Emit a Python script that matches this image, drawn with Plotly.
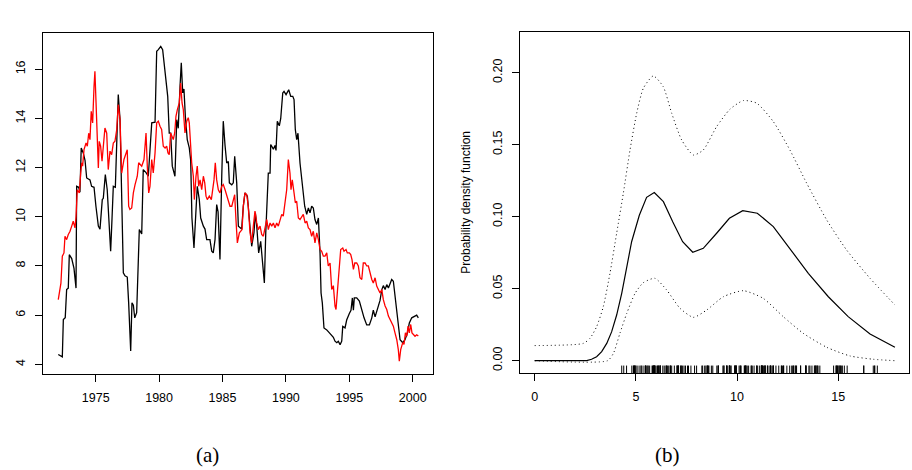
import plotly.graph_objects as go

# ---------------- Panel (a): time series ----------------
black_year = [1972.05, 1972.37, 1972.45, 1972.6, 1972.71, 1972.84, 1972.92, 1973.11, 1973.29, 1973.45,
              1973.5, 1973.66, 1973.76, 1973.86, 1974.02, 1974.16, 1974.29, 1974.55, 1974.68, 1974.87,
              1975.02, 1975.21, 1975.34, 1975.52, 1975.6, 1975.76, 1975.91, 1976.03, 1976.18, 1976.29,
              1976.39, 1976.55, 1976.66, 1976.78, 1976.92, 1977.05, 1977.18, 1977.31, 1977.49, 1977.6,
              1977.76, 1977.86, 1977.97, 1978.08, 1978.23, 1978.44, 1978.63, 1978.75, 1978.97, 1979.15,
              1979.42, 1979.68, 1979.81, 1979.94, 1980.13, 1980.28, 1980.39, 1980.54, 1980.68, 1980.8,
              1980.91, 1981.04, 1981.25, 1981.39, 1981.51, 1981.65, 1981.75, 1981.86, 1981.96, 1982.07,
              1982.22, 1982.38, 1982.49, 1982.59, 1982.75, 1982.85, 1983.01, 1983.17, 1983.28, 1983.49,
              1983.62, 1983.75, 1984.01, 1984.15, 1984.27, 1984.41, 1984.54, 1984.65, 1984.8, 1984.94,
              1985.06, 1985.2, 1985.33, 1985.46, 1985.54, 1985.73, 1985.85, 1985.96, 1986.12, 1986.25,
              1986.51, 1986.64, 1986.77, 1986.96, 1987.11, 1987.3, 1987.48, 1987.59, 1987.7, 1987.85,
              1988.01, 1988.12, 1988.22, 1988.3, 1988.41, 1988.53, 1988.61, 1988.75, 1988.8, 1989.01,
              1989.14, 1989.22, 1989.32, 1989.48, 1989.59, 1989.75, 1989.85, 1990.01, 1990.11, 1990.22,
              1990.38, 1990.54, 1990.64, 1990.74, 1990.85, 1990.95, 1991.11, 1991.25, 1991.37, 1991.48,
              1991.64, 1991.77, 1991.9, 1992.03, 1992.16, 1992.29, 1992.43, 1992.56, 1992.69, 1992.77,
              1992.87, 1993.0, 1993.22, 1993.42, 1993.61, 1993.74, 1993.87, 1994.01, 1994.13, 1994.27,
              1994.4, 1994.48, 1994.66, 1994.79, 1995.0, 1995.13, 1995.24, 1995.32, 1995.39, 1995.58,
              1995.79, 1995.98, 1996.16, 1996.37, 1996.58, 1996.77, 1996.89, 1997.03, 1997.16, 1997.29,
              1997.42, 1997.56, 1997.68, 1997.82, 1997.95, 1998.08, 1998.21, 1998.34, 1998.47, 1998.6,
              1998.74, 1998.86, 1999.0, 1999.21, 1999.39, 1999.57, 1999.73, 1999.92, 2000.1, 2000.31,
              2000.44]
black_val = [4.4, 4.3, 5.82, 5.9, 7.04, 7.1, 8.46, 8.3, 7.9, 7.1,
             11.24, 11.2, 11.0, 12.8, 12.6, 12.3, 11.58, 11.5, 11.24, 11.2,
             10.43, 9.62, 9.5, 10.7, 10.75, 11.72, 11.1, 9.89, 8.6, 9.95,
             11.24, 11.2, 13.4, 14.97, 13.96, 11.38, 7.72, 7.6, 7.55, 6.5,
             4.54, 6.5, 6.4, 5.89, 6.1, 9.48, 9.3, 11.92, 11.8, 11.65,
             13.82, 13.85, 16.73, 16.8, 16.93, 16.8, 16.26, 15.44, 14.9, 13.4,
             13.4, 12.06, 11.65, 13.95, 13.6, 15.3, 16.26, 15.04, 15.2, 14.09,
             13.14, 12.8, 12.3, 9.95, 8.73, 9.7, 11.24, 10.7, 9.95, 9.62,
             9.5, 9.07, 9.07, 8.6, 8.53, 9.07, 10.5, 10.2, 8.26, 11.65,
             13.89, 12.9, 12.19, 12.25, 11.38, 11.3, 11.38, 12.46, 11.38, 9.62,
             9.5, 10.43, 10.97, 10.84, 9.89, 8.8, 9.35, 10.16, 9.62, 8.53,
             9.0, 8.4, 8.0, 7.31, 9.35, 10.57, 11.78, 11.78, 12.94, 12.75,
             12.9, 12.7, 13.89, 13.7, 14.0, 15.04, 15.1, 14.97, 15.1, 15.17,
             14.9, 14.9, 14.77, 13.55, 13.14, 13.4, 12.19, 11.5, 10.97, 10.43,
             10.1, 10.36, 10.16, 10.43, 10.36, 9.89, 9.69, 9.95, 8.53, 6.9,
             6.5, 5.48, 5.4, 5.3, 5.2, 5.1, 4.94, 4.88, 4.94, 4.8,
             4.94, 5.54, 5.48, 5.8, 6.07, 6.2, 6.7, 6.2, 6.7, 6.7,
             6.57, 6.2, 5.89, 5.6, 5.6, 5.89, 6.2, 5.93, 6.13, 6.33,
             6.6, 7.04, 7.2, 7.04, 7.24, 7.1, 7.24, 7.45, 7.38, 6.77,
             6.1, 5.48, 5.0, 4.88, 5.0, 5.26, 5.68, 5.89, 5.95, 6.0,
             5.89]

red_year = [1972.05, 1972.18, 1972.26, 1972.37, 1972.5, 1972.58, 1972.71, 1972.84, 1972.97, 1973.11,
            1973.23, 1973.37, 1973.45, 1973.55, 1973.71, 1973.82, 1973.9, 1973.97, 1974.08, 1974.24,
            1974.34, 1974.45, 1974.55, 1974.65, 1974.76, 1974.87, 1974.94, 1975.02, 1975.13, 1975.21,
            1975.28, 1975.39, 1975.5, 1975.6, 1975.73, 1975.87, 1975.99, 1976.13, 1976.26, 1976.39,
            1976.52, 1976.66, 1976.78, 1976.92, 1977.05, 1977.23, 1977.39, 1977.49, 1977.6, 1977.7,
            1977.84, 1977.97, 1978.1, 1978.18, 1978.28, 1978.39, 1978.49, 1978.63, 1978.81, 1978.97,
            1979.07, 1979.18, 1979.28, 1979.42, 1979.54, 1979.68, 1979.81, 1979.94, 1980.07, 1980.2,
            1980.33, 1980.47, 1980.6, 1980.7, 1980.8, 1980.91, 1981.02, 1981.12, 1981.23, 1981.33,
            1981.44, 1981.59, 1981.7, 1981.81, 1981.91, 1982.04, 1982.18, 1982.3, 1982.38, 1982.49,
            1982.57, 1982.7, 1982.78, 1982.91, 1983.01, 1983.12, 1983.23, 1983.36, 1983.49, 1983.6,
            1983.7, 1983.8, 1983.96, 1984.12, 1984.23, 1984.33, 1984.43, 1984.54, 1984.67, 1984.8,
            1984.94, 1985.06, 1985.2, 1985.33, 1985.46, 1985.59, 1985.73, 1985.85, 1985.96, 1986.06,
            1986.17, 1986.33, 1986.54, 1986.64, 1986.77, 1986.91, 1987.03, 1987.17, 1987.3, 1987.43,
            1987.56, 1987.7, 1987.82, 1987.96, 1988.09, 1988.22, 1988.35, 1988.49, 1988.61, 1988.75,
            1988.88, 1989.01, 1989.14, 1989.27, 1989.4, 1989.53, 1989.67, 1989.79, 1989.93, 1990.06,
            1990.19, 1990.32, 1990.4, 1990.5, 1990.64, 1990.74, 1990.85, 1990.98, 1991.11, 1991.25,
            1991.37, 1991.51, 1991.64, 1991.77, 1991.9, 1992.03, 1992.16, 1992.29, 1992.43, 1992.56,
            1992.69, 1992.82, 1992.95, 1993.08, 1993.22, 1993.34, 1993.48, 1993.61, 1993.74, 1993.87,
            1993.95, 1994.05, 1994.21, 1994.32, 1994.48, 1994.58, 1994.74, 1994.84, 1995.0, 1995.11,
            1995.21, 1995.32, 1995.43, 1995.58, 1995.71, 1995.84, 1995.98, 1996.1, 1996.24, 1996.37,
            1996.5, 1996.63, 1996.77, 1996.89, 1997.03, 1997.16, 1997.29, 1997.42, 1997.56, 1997.68,
            1997.82, 1997.95, 1998.08, 1998.21, 1998.34, 1998.47, 1998.6, 1998.74, 1998.86, 1998.94,
            1999.05, 1999.21, 1999.31, 1999.42, 1999.53, 1999.63, 1999.73, 1999.84, 1999.94, 2000.05,
            2000.18, 2000.31, 2000.44]
red_val = [6.63, 7.2, 7.3, 8.4, 8.53, 9.21, 9.07, 9.28, 9.4, 9.62,
           9.82, 9.55, 10.0, 11.1, 10.97, 11.78, 12.2, 12.06, 12.73, 13.0,
           12.87, 13.4, 13.14, 14.29, 13.82, 15.31, 15.92, 14.77, 13.0, 11.99,
           13.07, 12.87, 12.26, 12.8, 13.61, 13.4, 11.92, 12.67, 12.53, 13.0,
           13.07, 13.55, 14.56, 13.96, 11.78, 12.33, 12.53, 12.73, 10.43, 10.3,
           10.36, 10.97, 11.3, 11.5, 11.65, 12.2, 12.13, 12.06, 12.33, 13.41,
           12.06, 10.97, 11.24, 12.33, 11.78, 12.6, 13.82, 13.89, 13.68, 13.55,
           12.87, 12.8, 12.87, 12.6, 12.53, 13.41, 13.27, 13.14, 13.41, 14.09,
           14.36, 14.63, 15.44, 14.63, 14.36, 13.41, 13.89, 14.03, 13.82, 12.73,
           12.2, 11.65, 10.7, 11.65, 12.06, 11.24, 11.5, 11.1, 11.65, 11.38,
           10.84, 10.7, 10.84, 10.7, 11.1, 11.5, 12.2, 11.5, 11.1, 10.97,
           11.24, 11.31, 11.1, 10.84, 10.7, 10.43, 10.43, 10.7, 10.9, 9.89,
           8.94, 9.35, 9.48, 10.43, 10.97, 10.9, 10.43, 9.35, 8.94, 9.62,
           10.23, 9.75, 9.48, 9.62, 9.28, 9.21, 9.62, 9.89, 9.48, 9.75,
           9.62, 9.75, 9.55, 9.75, 9.62, 9.89, 10.1, 10.03, 10.57, 11.1,
           12.33, 11.78, 11.1, 11.5, 10.97, 10.57, 10.63, 9.95, 9.89, 10.03,
           10.1, 9.75, 9.82, 9.55, 9.48, 9.21, 9.41, 8.94, 9.35, 9.07,
           8.67, 8.6, 8.4, 8.4, 8.53, 8.0, 8.12, 7.04, 7.2, 6.37,
           6.23, 6.9, 8.0, 8.67, 8.73, 8.6, 8.67, 8.53, 8.53, 8.46,
           8.26, 7.86, 8.12, 8.12, 8.0, 7.52, 7.45, 8.12, 8.12, 8.0,
           8.0, 7.72, 7.45, 7.31, 7.52, 7.18, 7.04, 6.9, 7.04, 6.63,
           6.37, 6.23, 5.96, 5.82, 5.68, 5.55, 5.28, 5.0, 4.6, 4.13,
           4.6, 4.88, 4.81, 5.28, 5.14, 5.55, 5.28, 5.62, 5.28, 5.2,
           5.14, 5.2, 5.15]

time_ticks = [1975, 1980, 1985, 1990, 1995, 2000]
level_ticks = [4, 6, 8, 10, 12, 14, 16]

# ---------------- Panel (b): density estimate ----------------
dens_x = [0.0, 2.57, 2.81, 3.06, 3.31, 3.56, 3.8, 4.05, 4.3, 4.55, 4.79, 5.17, 5.53, 5.91,
          6.36, 6.82, 7.31, 7.81, 8.33, 8.99, 9.62, 10.28, 11.0, 11.79, 12.61, 13.52, 14.51,
          15.49, 16.57, 17.8]
dens_mid = [0.0, 0.0, 0.001, 0.0028, 0.0063, 0.012, 0.020, 0.0317, 0.0468, 0.064, 0.0826,
            0.101, 0.1134, 0.1167, 0.1104, 0.0965, 0.0826, 0.0753, 0.078, 0.0885, 0.0989,
            0.1042, 0.1024, 0.0931, 0.078, 0.0607, 0.0444, 0.0306, 0.0185, 0.0093]

upper_x = [0.0, 2.4, 2.73, 3.06, 3.39, 3.72, 4.05, 4.38, 4.71, 5.04, 5.37, 5.86, 6.35, 6.77,
           7.26, 7.84, 8.33, 8.99, 9.65, 10.31, 10.97, 11.79, 12.61, 13.44, 14.43, 15.41,
           16.57, 17.8]
upper_y = [0.0105, 0.012, 0.0155, 0.0236, 0.0375, 0.0607, 0.0885, 0.1163, 0.1463, 0.1718,
           0.1892, 0.1977, 0.1903, 0.1718, 0.1533, 0.1428, 0.1463, 0.1625, 0.1746, 0.1806,
           0.1788, 0.166, 0.1463, 0.1232, 0.0977, 0.0769, 0.0572, 0.0387]

lower_x = [0.0, 3.6, 3.89, 4.21, 4.55, 4.96, 5.37, 5.94, 6.52, 7.18, 7.84, 8.5, 9.32, 10.31,
           11.29, 12.28, 13.27, 14.43, 15.58, 16.73, 17.8]
lower_y = [0.0, 0.0, 0.0051, 0.019, 0.0329, 0.0468, 0.0542, 0.0572, 0.0491, 0.0364, 0.0301,
           0.0352, 0.0444, 0.0486, 0.0433, 0.0306, 0.019, 0.0093, 0.0033, 0.001, 0.0]

value_ticks = [0, 5, 10, 15]
density_ticks = [0.00, 0.05, 0.10, 0.15, 0.20]

panel_labels = ["(a)", "(b)"]
ylab_b = "Probability density function"

# ---------------- Figure ----------------
W, H = 912, 470
def px_x(p):
    return p / W
def px_y(p):
    return 1 - p / H

fig = go.Figure()

fig.add_trace(go.Scatter(x=black_year, y=black_val, mode="lines",
                         line=dict(color="black", width=1.3), xaxis="x", yaxis="y",
                         showlegend=False, hoverinfo="skip"))
fig.add_trace(go.Scatter(x=red_year, y=red_val, mode="lines",
                         line=dict(color="#ff0000", width=1.3), xaxis="x", yaxis="y",
                         showlegend=False, hoverinfo="skip"))

fig.add_trace(go.Scatter(x=upper_x, y=upper_y, mode="lines",
                         line=dict(color="black", width=1, dash="1px,3px", shape="spline", smoothing=0.6),
                         xaxis="x2", yaxis="y2", showlegend=False, hoverinfo="skip"))
fig.add_trace(go.Scatter(x=lower_x, y=lower_y, mode="lines",
                         line=dict(color="black", width=1, dash="1px,3px", shape="spline", smoothing=0.6),
                         xaxis="x2", yaxis="y2", showlegend=False, hoverinfo="skip"))
fig.add_trace(go.Scatter(x=dens_x, y=dens_mid, mode="lines",
                         line=dict(color="black", width=1.2),
                         xaxis="x2", yaxis="y2", showlegend=False, hoverinfo="skip"))

# rug of observations (black series)
fig.add_trace(go.Scatter(x=black_val, y=[-0.0063] * len(black_val), mode="markers",
                         marker=dict(symbol="line-ns", size=6, color="black",
                                     line=dict(color="black", width=1)),
                         xaxis="x2", yaxis="y2", showlegend=False, hoverinfo="skip"))

tickfont = dict(family="Liberation Sans, Arial, Helvetica, sans-serif", size=12.5, color="black")
axis_common = dict(showline=True, mirror=True, linecolor="black", linewidth=1,
                   ticks="outside", ticklen=7, tickwidth=1, tickcolor="black",
                   showgrid=False, zeroline=False, tickfont=tickfont, fixedrange=True)

fig.update_layout(
    width=W, height=H,
    margin=dict(l=0, r=0, t=0, b=0),
    paper_bgcolor="white", plot_bgcolor="white",
    xaxis=dict(domain=[px_x(43.3), px_x(433.3)], anchor="y", range=[1970.87, 2001.62],
               tickmode="array", tickvals=time_ticks, ticktext=[str(t) for t in time_ticks],
               ticklabelstandoff=5, **axis_common),
    yaxis=dict(domain=[px_y(373.7), px_y(33)], anchor="x", range=[3.618, 17.476],
               tickmode="array", tickvals=level_ticks, ticktext=[str(t) for t in level_ticks],
               tickangle=-90, ticklabelstandoff=5, **axis_common),
    xaxis2=dict(domain=[px_x(520), px_x(909.3)], anchor="y2", range=[-0.726, 18.51],
                tickmode="array", tickvals=value_ticks, ticktext=[str(t) for t in value_ticks],
                ticklabelstandoff=5, **axis_common),
    yaxis2=dict(domain=[px_y(373), px_y(32.3)], anchor="x2", range=[-0.00854, 0.228],
                tickmode="array", tickvals=density_ticks,
                ticktext=["%.2f" % t for t in density_ticks],
                tickangle=-90, ticklabelstandoff=5, **axis_common),
    annotations=[
        dict(text=ylab_b, x=px_x(466), y=px_y(202.7), xref="paper", yref="paper",
             textangle=-90, showarrow=False, xanchor="center", yanchor="middle",
             font=dict(family="Liberation Sans, Arial, sans-serif", size=12, color="black")),
        dict(text=panel_labels[0], x=px_x(207), y=px_y(455), xref="paper", yref="paper",
             showarrow=False, xanchor="center", yanchor="middle",
             font=dict(family="Liberation Serif, DejaVu Serif, serif", size=21, color="black")),
        dict(text=panel_labels[1], x=px_x(667), y=px_y(455), xref="paper", yref="paper",
             showarrow=False, xanchor="center", yanchor="middle",
             font=dict(family="Liberation Serif, DejaVu Serif, serif", size=21, color="black")),
    ],
)

fig.write_html("out.html")
